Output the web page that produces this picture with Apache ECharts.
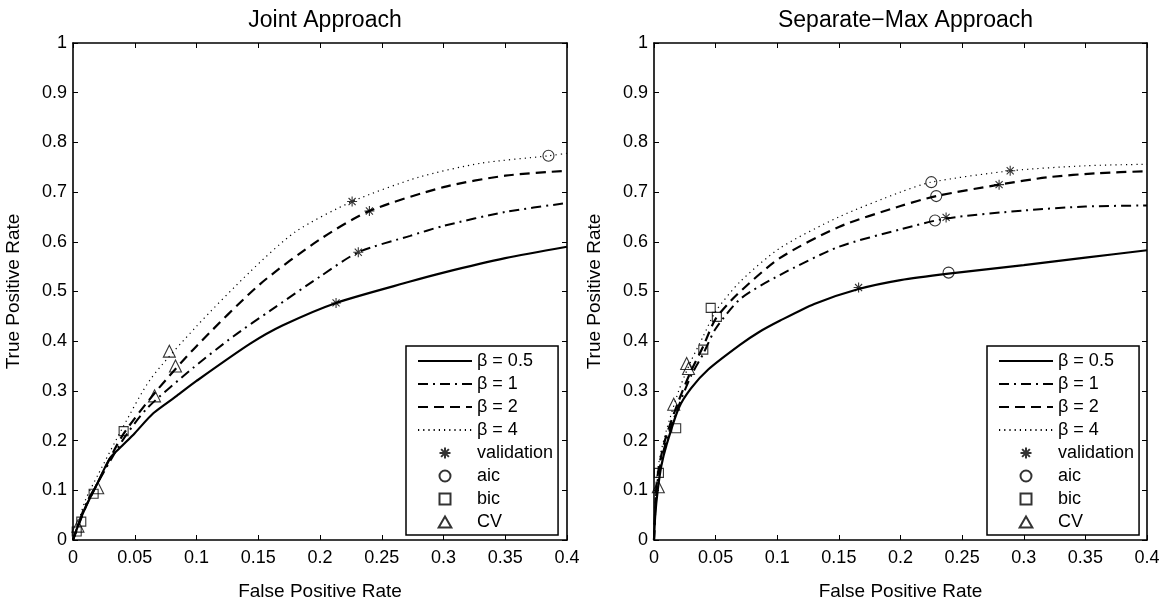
<!DOCTYPE html>
<html>
<head>
<meta charset="utf-8">
<script src="https://cdn.jsdelivr.net/npm/echarts@6/dist/echarts.min.js"></script>
<style>html,body{margin:0;padding:0;background:#fff}#c{width:1163px;height:606px}</style>
</head>
<body>
<div id="c"></div>
<script>
// ---- data (x = false positive rate, y = true positive rate) ----
const titles = ['Joint Approach', 'Separate\u2212Max Approach'];
const seriesNames = ['\u03b2 = 0.5', '\u03b2 = 1', '\u03b2 = 2', '\u03b2 = 4', 'validation', 'aic', 'bic', 'CV'];
const xTickValues = [0, 0.05, 0.1, 0.15, 0.2, 0.25, 0.3, 0.35, 0.4];
const yTickValues = [0, 0.1, 0.2, 0.3, 0.4, 0.5, 0.6, 0.7, 0.8, 0.9, 1];

// Joint approach
const jointB05 = [[0,0],[0.005,0.035],[0.01,0.065],[0.02,0.115],[0.03,0.165],[0.04,0.19],[0.05,0.215],[0.065,0.255],[0.084,0.29],[0.1,0.32],[0.1435,0.395],[0.17,0.432],[0.213,0.477],[0.273,0.52],[0.3,0.538],[0.35,0.567],[0.4,0.59]];
const jointB1 = [[0,0],[0.01,0.07],[0.02,0.115],[0.04,0.2],[0.06,0.265],[0.0976,0.347],[0.13,0.41],[0.16,0.462],[0.2,0.53],[0.231,0.579],[0.273,0.612],[0.3,0.632],[0.35,0.66],[0.4,0.678]];
const jointB2 = [[0,0],[0.01,0.065],[0.02,0.115],[0.04,0.21],[0.0676,0.30],[0.1,0.39],[0.1515,0.515],[0.2,0.605],[0.24,0.662],[0.3,0.71],[0.35,0.733],[0.4,0.743]];
const jointB4 = [[0,0],[0.01,0.08],[0.02,0.13],[0.04,0.225],[0.0626,0.323],[0.1,0.43],[0.1435,0.54],[0.18,0.62],[0.226,0.681],[0.28,0.73],[0.33,0.758],[0.385,0.773],[0.4,0.778]];
const jointValidation = [[0.213,0.477],[0.231,0.579],[0.24,0.662],[0.226,0.681]];
const jointAic = [[0.385,0.773]];
const jointBic = [[0.003,0.017],[0.0067,0.037],[0.0167,0.093],[0.041,0.219]];
const jointCV = [[0.004,0.028],[0.02,0.105],[0.066,0.29],[0.083,0.35],[0.078,0.38]];

// Separate-max approach
const sepB05 = [[0,0],[0.001,0.05],[0.003,0.1],[0.006,0.15],[0.01,0.19],[0.02,0.265],[0.03,0.305],[0.044,0.343],[0.07,0.393],[0.085,0.418],[0.102,0.441],[0.13,0.475],[0.166,0.505],[0.2,0.523],[0.239,0.536],[0.3,0.553],[0.35,0.568],[0.4,0.583]];
const sepB1 = [[0,0],[0.002,0.1],[0.005,0.15],[0.01,0.2],[0.02,0.27],[0.03,0.33],[0.04,0.375],[0.05,0.425],[0.07,0.485],[0.102,0.533],[0.15,0.59],[0.2,0.625],[0.237,0.647],[0.3,0.663],[0.35,0.671],[0.4,0.673]];
const sepB2 = [[0,0],[0.002,0.11],[0.005,0.16],[0.01,0.21],[0.02,0.28],[0.03,0.34],[0.04,0.39],[0.05,0.445],[0.067,0.493],[0.102,0.567],[0.15,0.63],[0.2,0.672],[0.229,0.692],[0.28,0.715],[0.32,0.73],[0.36,0.738],[0.4,0.742]];
const sepB4 = [[0,0],[0.002,0.12],[0.005,0.17],[0.01,0.22],[0.02,0.3],[0.03,0.36],[0.04,0.41],[0.05,0.46],[0.07,0.52],[0.102,0.587],[0.15,0.65],[0.2,0.7],[0.225,0.72],[0.29,0.743],[0.35,0.753],[0.4,0.756]];
const sepValidation = [[0.166,0.508],[0.237,0.649],[0.28,0.715],[0.289,0.743]];
const sepAic = [[0.239,0.538],[0.228,0.643],[0.229,0.692],[0.225,0.72]];
const sepBic = [[0.004,0.135],[0.018,0.225],[0.04,0.383],[0.051,0.449],[0.046,0.467]];
const sepCV = [[0.0035,0.107],[0.016,0.273],[0.028,0.345],[0.0265,0.355]];

// ---- chart ----
const FONT = 'Liberation Sans, Arial, Helvetica, sans-serif';
const STAR = 'path://M0,-10L0,10M-10,0L10,0M-7.07,-7.07L7.07,7.07M-7.07,7.07L7.07,-7.07';
const SQUARE = 'path://M0,0L10,0L10,10L0,10Z';
const TRI = 'path://M5,0L10,8.66L0,8.66Z';
const grids = [
  {left: 73, top: 43, width: 494, height: 500},
  {left: 654, top: 43, width: 493, height: 500}
];
const lineStyles = [
  {type: 'solid', width: 2.2},
  {type: [10, 5, 2, 5], width: 2},
  {type: [10, 6], width: 2.2},
  {type: [1.2, 4], width: 1.2}
];
const markerStyles = [
  {symbol: STAR, size: 10, icon: STAR},
  {symbol: 'circle', size: 11, icon: 'circle'},
  {symbol: 'rect', size: 9, icon: SQUARE},
  {symbol: 'triangle', size: 12, icon: TRI}
];
const curves = [[jointB05, jointB1, jointB2, jointB4], [sepB05, sepB1, sepB2, sepB4]];
const markers = [[jointValidation, jointAic, jointBic, jointCV], [sepValidation, sepAic, sepBic, sepCV]];

const legendData = seriesNames.map(function (n, i) {
  if (i < 4) {
    return {name: n, itemStyle: {color: 'rgba(0,0,0,0)', borderColor: 'rgba(0,0,0,0)', borderWidth: 0}};
  }
  return {name: n, icon: markerStyles[i - 4].icon};
});

const xAxes = [], yAxes = [], series = [], legends = [], titleList = [];
for (let g = 0; g < 2; g++) {
  const base = {
    gridIndex: g, type: 'value', min: 0, max: 0.4, interval: 0.05,
    axisLine: {show: true, onZero: false, lineStyle: {color: '#000', width: 1.6}},
    axisTick: {show: true, inside: true, length: 5, lineStyle: {color: '#000', width: 1}},
    splitLine: {show: false}
  };
  xAxes.push(Object.assign({}, base, {
    position: 'bottom',
    name: 'False Positive Rate', nameLocation: 'middle', nameGap: 42,
    nameTextStyle: {fontSize: 19, color: '#000', fontFamily: FONT},
    axisLabel: {fontSize: 18, color: '#000', fontFamily: FONT, margin: 9}
  }));
  xAxes.push(Object.assign({}, base, {position: 'top', axisLabel: {show: false}}));
  const ybase = Object.assign({}, base, {min: 0, max: 1, interval: 0.1});
  yAxes.push(Object.assign({}, ybase, {
    position: 'left',
    name: 'True Positive Rate', nameLocation: 'middle', nameGap: 50,
    nameTextStyle: {fontSize: 19, color: '#000', fontFamily: FONT},
    axisLabel: {fontSize: 18, color: '#000', fontFamily: FONT, margin: 6}
  }));
  yAxes.push(Object.assign({}, ybase, {position: 'right', axisLabel: {show: false}}));

  titleList.push({
    text: titles[g], left: grids[g].left + grids[g].width / 2, top: 4, textAlign: 'center',
    textStyle: {fontSize: 23, fontWeight: 'normal', color: '#000', fontFamily: FONT}
  });

  for (let i = 0; i < 4; i++) {
    series.push({
      type: 'line', name: seriesNames[i], xAxisIndex: g * 2, yAxisIndex: g * 2,
      data: curves[g][i], symbol: 'none', smooth: 0.25, silent: true, animation: false,
      lineStyle: Object.assign({color: '#000'}, lineStyles[i]),
      itemStyle: {color: '#000'}
    });
  }
  for (let i = 0; i < 4; i++) {
    series.push({
      type: 'scatter', name: seriesNames[4 + i], xAxisIndex: g * 2, yAxisIndex: g * 2,
      data: markers[g][i], symbol: markerStyles[i].symbol, symbolSize: markerStyles[i].size,
      silent: true, animation: false, z: 5,
      itemStyle: {color: 'rgba(0,0,0,0)', borderColor: '#000', borderWidth: 1.1}
    });
  }
  legends.push({
    orient: 'vertical', left: grids[g].left + 333, top: 346,
    data: legendData, itemWidth: 54, itemHeight: 11, itemGap: 5,
    symbolKeepAspect: true,
    padding: [6, 5, 4, 11], selectedMode: false,
    backgroundColor: '#fff', borderColor: '#000', borderWidth: 1.5, borderRadius: 0,
    textStyle: {fontSize: 18, color: '#000', fontFamily: FONT}
  });
}

const chart = echarts.init(document.getElementById('c'), null, {renderer: 'canvas'});
chart.setOption({
  animation: false,
  backgroundColor: '#fff',
  title: titleList,
  grid: grids,
  xAxis: xAxes,
  yAxis: yAxes,
  legend: legends,
  series: series
});
</script>
</body>
</html>
